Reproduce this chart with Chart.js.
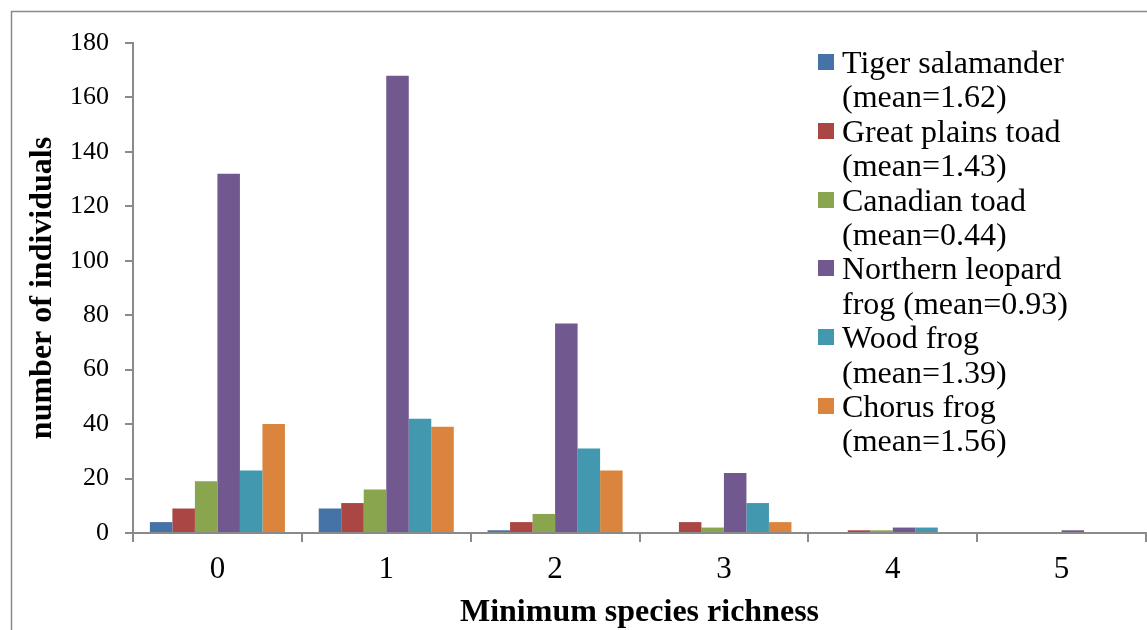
<!DOCTYPE html>
<html>
<head>
<meta charset="utf-8">
<script src="https://cdn.jsdelivr.net/npm/chart.js@4"></script>
<style>
  body { margin: 0; background: #fff; }
  #wrap { position: relative; width: 1147px; height: 630px; overflow: hidden; }
  #legend {
    position: absolute; left: 818px; top: 45px;
    font-family: 'Liberation Serif', 'Times New Roman', serif;
    font-size: 32px; line-height: 34.4px; color: #000;
  }
  .item { position: relative; padding-left: 24px; }
  .box { position: absolute; left: 0; top: 9px; width: 16px; height: 16px; }
</style>
</head>
<body>
<div id="wrap">
  <canvas id="chart" width="1147" height="630"></canvas>
  <div id="legend"></div>
</div>
<script>
// categories (minimum species richness)
const categories = ['0', '1', '2', '3', '4', '5'];

// number of individuals per species
const tigerSalamander = [4, 9, 1, 0, 0, 0];
const greatPlainsToad = [9, 11, 4, 4, 1, 0];
const canadianToad = [19, 16, 7, 2, 1, 0];
const northernLeopardFrog = [132, 168, 77, 22, 2, 1];
const woodFrog = [23, 42, 31, 11, 2, 0];
const chorusFrog = [40, 39, 23, 4, 0, 0];

// legend text, two lines each
const seriesLabels = [
  ['Tiger salamander', '(mean=1.62)'],
  ['Great plains toad', '(mean=1.43)'],
  ['Canadian toad', '(mean=0.44)'],
  ['Northern leopard', 'frog (mean=0.93)'],
  ['Wood frog', '(mean=1.39)'],
  ['Chorus frog', '(mean=1.56)']
];
const seriesColors = ['#4572A7', '#AA4643', '#89A54E', '#71588F', '#4198AF', '#DB843D'];
const seriesValues = [tigerSalamander, greatPlainsToad, canadianToad, northernLeopardFrog, woodFrog, chorusFrog];

const serif = "'Liberation Serif', 'Times New Roman', serif";
const axisGray = '#8a8a8a';

const frame = {
  id: 'frame',
  beforeDraw(chart) {
    const ctx = chart.ctx;
    ctx.save();
    ctx.strokeStyle = '#8a8a8a';
    ctx.lineWidth = 1.5;
    ctx.strokeRect(11.5, 11.5, 1200, 700);
    ctx.restore();
  }
};

const datasets = seriesValues.map((vals, i) => ({
  label: seriesLabels[i].join(' '),
  data: vals,
  backgroundColor: seriesColors[i],
  borderWidth: 0,
  categoryPercentage: 0.8,
  barPercentage: 1.0
}));

new Chart(document.getElementById('chart'), {
  type: 'bar',
  data: { labels: categories, datasets: datasets },
  options: {
    responsive: false,
    animation: false,
    layout: { padding: { left: 0, top: 43, right: 1, bottom: 0 } },
    plugins: { legend: { display: false }, tooltip: { enabled: false } },
    scales: {
      x: {
        afterFit: s => { s.height = 97; },
        grid: { offset: true, drawOnChartArea: false, drawTicks: true, tickLength: 9, color: axisGray, lineWidth: 2 },
        border: { color: axisGray, width: 2 },
        ticks: { color: '#000', font: { family: serif, size: 31 }, padding: 9 },
        title: {
          display: true, text: 'Minimum species richness', color: '#000',
          font: { family: serif, size: 32, weight: 'bold' }, padding: { top: 0, bottom: -2 }
        }
      },
      y: {
        min: 0, max: 180,
        afterFit: s => { s.width = 133; },
        grid: { drawOnChartArea: false, drawTicks: true, tickLength: 8, color: axisGray, lineWidth: 2 },
        border: { color: axisGray, width: 2 },
        ticks: { stepSize: 20, color: '#000', font: { family: serif, size: 26 }, padding: 16 },
        title: {
          display: true, text: 'number of individuals', color: '#000',
          font: { family: serif, size: 32, weight: 'bold' }, padding: { top: 24, bottom: 0 }
        }
      }
    }
  },
  plugins: [frame]
});

// html legend, overlapping the plot like the original
const legend = document.getElementById('legend');
seriesLabels.forEach((lines, i) => {
  const item = document.createElement('div');
  item.className = 'item';
  item.innerHTML = '<span class="box" style="background:' + seriesColors[i] + '"></span>' + lines.join('<br>');
  legend.appendChild(item);
});
</script>
</body>
</html>
